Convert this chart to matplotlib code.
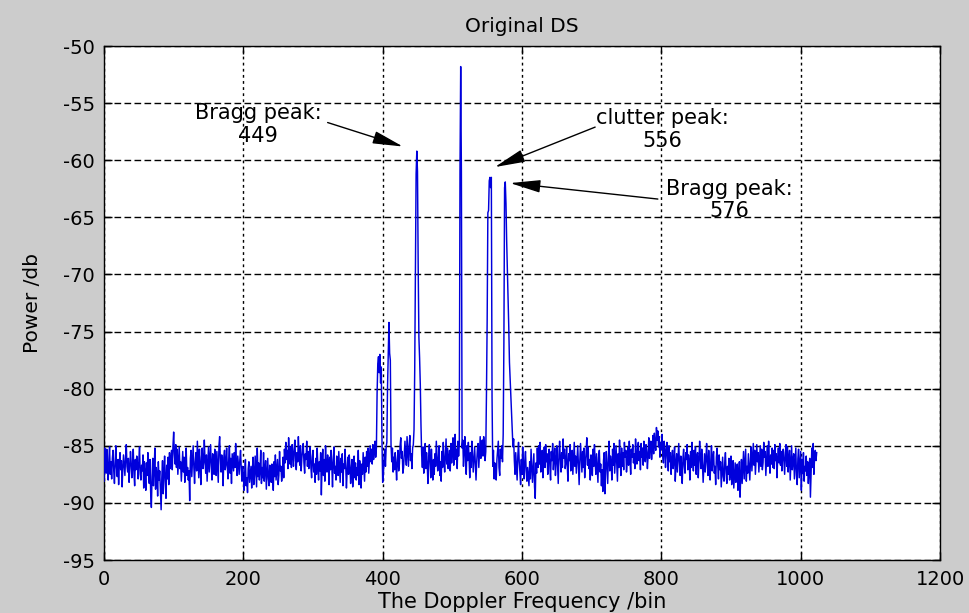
import numpy as np
import matplotlib
matplotlib.use("Agg")
import matplotlib.pyplot as plt

# ---------------- data ----------------
# Power spectrum in dB, bins 0..1023, split into four segments
power_bins_0_255 = [
    -88.1, -85.2, -86.0, -87.4, -85.3, -86.8, -88.0, -86.2, -85.1, -87.5, -86.4, -87.9, -86.1, -85.4, -87.2, -88.3,
    -86.5, -85.0, -86.9, -87.7, -86.2, -88.4, -86.6, -85.6, -87.1, -86.3, -88.6, -87.0, -85.8, -86.7, -87.6, -86.0,
    -84.9, -86.8, -87.3, -86.1, -88.2, -87.0, -85.5, -86.4, -87.8, -86.9, -85.3, -87.4, -88.5, -86.2, -87.1, -85.9,
    -86.6, -87.9, -86.3, -85.1, -87.5, -88.0, -86.7, -87.2, -85.8, -88.7, -86.4, -87.3, -88.9, -86.5, -87.6, -85.6,
    -87.4, -88.3, -86.2, -89.1, -90.4, -87.6, -86.1, -88.5, -87.0, -85.2, -88.8, -86.9, -87.5, -89.4, -86.4, -88.0,
    -87.2, -88.9, -90.6, -87.8, -86.3, -89.2, -87.4, -85.9, -88.1, -89.6, -86.7, -87.9, -86.0, -88.4, -85.6, -87.0,
    -86.3, -85.4, -87.1, -85.0, -83.8, -85.7, -86.6, -84.9, -86.9, -85.3, -87.5, -86.2, -85.1, -87.0, -86.4, -88.1,
    -86.8, -85.5, -87.3, -86.0, -88.2, -86.5, -85.2, -87.6, -86.9, -88.0, -87.2, -89.8, -86.1, -85.4, -87.7, -86.3,
    -85.0, -86.9, -88.3, -86.4, -85.6, -87.2, -84.6, -86.1, -87.8, -85.3, -86.7, -88.4, -86.0, -85.2, -87.0, -86.5,
    -84.5, -86.3, -87.4, -85.8, -88.1, -86.6, -85.1, -87.3, -86.0, -84.9, -86.8, -88.0, -85.7, -86.4, -87.5, -85.3,
    -86.2, -87.6, -85.5, -86.9, -88.2, -85.0, -84.2, -86.1, -87.3, -85.8, -86.7, -88.5, -86.0, -85.4, -87.1, -86.6,
    -85.2, -86.8, -87.9, -86.3, -85.0, -87.4, -86.1, -88.3, -85.7, -86.5, -87.2, -85.6, -86.9, -84.8, -86.4, -87.6,
    -85.9, -86.7, -87.5, -86.2, -85.4, -87.0, -88.1, -86.8, -87.6, -88.9, -87.3, -86.2, -88.5, -87.8, -89.1, -87.0,
    -86.4, -88.2, -87.5, -86.8, -88.7, -87.1, -86.0, -88.4, -87.6, -85.9, -87.3, -88.6, -85.2, -87.7, -86.5, -88.0,
    -87.2, -85.4, -88.3, -86.9, -87.8, -85.6, -88.1, -87.0, -86.3, -88.8, -87.4, -86.1, -87.9, -88.5, -86.7, -87.3,
    -88.2, -86.6, -87.5, -88.9, -86.4, -87.7, -85.8, -88.0, -87.1, -86.2, -88.4, -87.6, -85.5, -87.2, -86.8, -88.1,
]
power_bins_256_511 = [
    -87.4, -86.0, -87.8, -85.3, -86.5, -84.7, -86.2, -85.4, -87.0, -84.3, -85.8, -86.6, -85.1, -86.9, -84.9, -85.7,
    -86.8, -85.2, -84.5, -86.3, -87.1, -85.6, -86.4, -84.2, -85.9, -86.7, -85.0, -87.2, -86.1, -85.3, -84.8, -86.5,
    -87.4, -85.7, -86.2, -84.6, -86.8, -85.5, -87.0, -86.3, -85.1, -86.9, -87.8, -86.0, -85.4, -87.3, -86.6, -88.2,
    -86.1, -87.5, -85.2, -86.8, -88.0, -86.4, -87.2, -85.6, -89.3, -86.7, -85.3, -87.6, -86.2, -88.1, -85.0, -86.9,
    -87.3, -85.8, -86.5, -88.4, -86.0, -87.1, -85.4, -86.7, -88.6, -86.3, -85.1, -87.4, -86.8, -88.0, -85.9, -86.4,
    -87.6, -85.5, -86.9, -88.2, -86.1, -87.3, -85.7, -88.5, -86.6, -87.0, -85.3, -86.8, -88.7, -87.2, -86.0, -87.5,
    -85.8, -86.7, -88.3, -87.1, -86.2, -88.6, -87.4, -85.9, -87.8, -86.5, -88.0, -86.9, -87.6, -85.4, -88.4, -86.3,
    -87.0, -88.7, -86.6, -87.5, -85.6, -86.9, -88.1, -86.0, -87.3, -85.5, -86.8, -85.2, -87.4, -86.1, -85.0, -86.4,
    -85.3, -86.6, -84.9, -86.2, -85.5, -84.6, -86.0, -85.2, -80.4, -77.8, -77.2, -78.6, -77.0, -79.5, -78.1, -84.5,
    -88.2, -87.6, -86.0, -85.3, -86.8, -85.1, -84.7, -79.8, -77.2, -74.2, -76.9, -77.5, -84.9, -86.4, -85.2, -87.3,
    -86.0, -87.1, -85.6, -86.7, -88.0, -86.3, -85.4, -87.2, -86.6, -85.0, -84.3, -86.1, -85.5, -87.4, -86.9, -85.8,
    -84.6, -85.9, -86.7, -84.2, -85.5, -86.8, -85.0, -84.1, -86.3, -85.7, -87.0, -85.2, -84.9, -83.6, -78.4, -69.4,
    -61.2, -59.2, -61.0, -69.4, -75.5, -77.3, -79.6, -83.2, -85.8, -86.9, -85.1, -87.4, -86.2, -84.8, -87.0, -85.6,
    -86.7, -88.3, -86.0, -84.9, -86.5, -87.8, -85.3, -86.9, -88.0, -86.2, -87.5, -85.7, -86.8, -84.6, -85.9, -87.2,
    -86.3, -85.0, -87.6, -86.4, -88.1, -85.5, -86.9, -84.7, -86.2, -87.3, -85.8, -84.4, -86.6, -85.2, -87.0, -86.1,
    -85.4, -87.2, -84.8, -86.5, -85.1, -84.3, -86.7, -85.6, -84.0, -86.2, -85.3, -87.0, -84.6, -85.9, -84.9, -61.0,
]
power_bins_512_767 = [
    -51.8, -61.0, -85.2, -84.5, -86.8, -85.3, -84.2, -86.4, -87.5, -85.0, -86.3, -84.7, -86.0, -87.8, -85.6, -86.9,
    -84.6, -85.8, -87.3, -86.2, -85.1, -86.6, -88.0, -86.4, -85.3, -84.8, -86.9, -85.5, -84.2, -86.1, -85.0, -84.5,
    -85.9, -84.2, -85.0, -86.3, -85.5, -80.4, -74.0, -64.6, -64.4, -61.8, -61.5, -62.4, -61.5, -80.7, -86.8, -85.4,
    -87.9, -86.5, -87.4, -88.0, -86.2, -85.4, -84.6, -86.9, -87.6, -85.3, -86.1, -85.0, -86.4, -84.0, -76.0, -62.4,
    -61.9, -63.8, -67.1, -69.5, -72.2, -74.6, -77.7, -79.2, -80.6, -82.1, -83.5, -85.1, -84.4, -86.3, -87.5, -85.6,
    -86.8, -88.0, -85.9, -84.7, -86.4, -87.3, -88.4, -86.2, -87.5, -85.1, -86.7, -87.9, -86.3, -85.5, -87.2, -88.1,
    -86.9, -87.7, -88.5, -86.4, -87.9, -85.3, -86.8, -88.2, -87.0, -85.7, -88.6, -89.6, -86.5, -87.4, -85.2, -86.9,
    -85.0, -86.6, -84.7, -87.3, -86.0, -85.4, -87.8, -86.2, -85.1, -86.9, -84.9, -86.4, -85.7, -87.5, -86.1, -85.3,
    -86.8, -88.0, -85.5, -86.3, -84.8, -87.1, -86.0, -85.2, -87.6, -86.4, -85.0, -86.7, -88.3, -85.8, -84.6, -86.2,
    -87.3, -85.6, -86.9, -84.4, -86.1, -85.3, -87.0, -86.5, -85.1, -86.8, -88.1, -85.7, -86.3, -84.9, -87.2, -86.0,
    -85.4, -87.5, -86.2, -84.7, -86.8, -85.9, -87.4, -86.1, -85.0, -86.6, -88.4, -86.3, -84.8, -86.0, -87.3, -85.5,
    -86.9, -85.2, -87.8, -86.4, -85.6, -84.3, -86.7, -85.1, -87.0, -86.2, -88.0, -85.8, -86.5, -87.6, -85.3, -86.8,
    -84.9, -86.4, -87.5, -85.7, -86.9, -88.2, -86.0, -85.4, -87.3, -86.6, -88.5, -87.1, -89.0, -86.3, -85.6, -89.2,
    -87.0, -85.5, -86.8, -88.3, -86.1, -84.6, -87.2, -85.9, -86.5, -88.0, -85.3, -86.7, -84.8, -87.4, -86.2, -85.0,
    -86.6, -88.1, -85.7, -86.9, -84.5, -86.3, -87.6, -85.2, -86.8, -85.6, -87.1, -84.7, -86.0, -85.4, -87.3, -86.4,
    -85.1, -86.7, -84.6, -86.2, -87.5, -85.3, -86.0, -84.9, -86.5, -85.7, -87.0, -84.4, -85.9, -86.6, -85.2, -84.7,
]
power_bins_768_1023 = [
    -86.3, -85.5, -87.1, -84.8, -86.0, -85.2, -86.7, -84.6, -85.8, -86.4, -84.9, -85.5, -87.0, -85.9, -84.3, -86.1,
    -85.0, -84.6, -86.2, -85.3, -84.1, -85.7, -83.9, -84.8, -85.4, -83.4, -84.5, -83.7, -85.1, -84.2, -86.0, -84.7,
    -85.3, -84.0, -85.8, -86.5, -84.6, -85.2, -86.9, -85.5, -84.7, -86.1, -87.2, -85.0, -86.4, -85.6, -87.5, -86.2,
    -85.4, -87.0, -86.3, -85.1, -88.1, -86.6, -85.7, -87.3, -86.0, -84.8, -86.5, -87.6, -85.9, -86.7, -88.3, -86.1,
    -85.3, -86.8, -87.4, -85.6, -86.2, -84.9, -87.1, -85.8, -86.4, -88.0, -85.5, -86.9, -84.7, -86.3, -87.2, -85.4,
    -86.7, -85.1, -87.5, -86.0, -85.6, -87.8, -86.4, -84.6, -86.1, -87.0, -85.3, -86.6, -88.2, -86.9, -85.7, -87.3,
    -86.2, -84.8, -86.5, -87.6, -85.4, -86.9, -88.0, -86.3, -85.0, -87.2, -86.1, -85.5, -87.4, -86.8, -88.4, -86.0,
    -85.2, -86.7, -87.9, -85.8, -87.1, -86.4, -88.6, -87.3, -86.0, -87.7, -88.1, -86.5, -85.6, -87.4, -88.3, -86.8,
    -87.5, -86.1, -88.0, -87.2, -85.9, -88.4, -87.0, -86.3, -88.7, -87.6, -86.5, -88.2, -87.3, -86.6, -88.9, -87.8,
    -86.4, -89.5, -87.7, -86.2, -88.3, -87.0, -85.5, -87.9, -86.6, -85.3, -88.1, -86.8, -87.4, -85.7, -86.9, -88.0,
    -86.3, -85.1, -87.2, -86.0, -84.8, -86.7, -85.4, -87.5, -86.1, -84.9, -86.4, -85.6, -87.3, -86.2, -85.0, -86.8,
    -85.3, -87.1, -86.5, -84.7, -86.0, -85.5, -87.6, -86.3, -85.0, -86.8, -84.6, -86.2, -87.4, -85.8, -86.6, -85.2,
    -86.9, -85.4, -87.0, -84.9, -86.3, -85.7, -87.8, -86.1, -85.2, -86.5, -84.8, -86.7, -85.5, -87.2, -86.0, -85.3,
    -86.4, -87.5, -85.6, -84.9, -86.8, -85.1, -87.3, -86.2, -85.4, -88.0, -86.6, -85.0, -87.1, -86.3, -85.7, -87.9,
    -86.5, -85.2, -87.6, -88.4, -86.1, -85.3, -87.8, -86.7, -85.5, -88.9, -86.2, -87.4, -85.6, -88.1, -86.8, -87.2,
    -85.9, -87.6, -86.4, -88.3, -87.0, -86.1, -89.5, -87.3, -85.2, -86.9, -84.8, -87.5, -86.0, -85.4, -86.3, -85.6,
]

title_text = "Original DS"
x_label = "The Doppler Frequency /bin"
y_label = "Power /db"
x_ticks = [0, 200, 400, 600, 800, 1000, 1200]
y_ticks = [-95, -90, -85, -80, -75, -70, -65, -60, -55, -50]

annot_texts = ["Bragg peak:\n449", "clutter peak:\n556", "Bragg peak:\n576"]

# ---------------- figure ----------------
power = np.array(power_bins_0_255 + power_bins_256_511 + power_bins_512_767 + power_bins_768_1023)
bins = np.arange(len(power))

fig = plt.figure(figsize=(9.70, 6.13), dpi=100, facecolor="#cccccc")
ax = fig.add_axes([104 / 970, 1 - 560 / 613, 836 / 970, (560 - 46) / 613])
ax.set_facecolor("white")

ax.plot(bins, power, color="#0000dc", lw=1.05, zorder=3)

ax.set_xlim(0, 1200)
ax.set_ylim(-95, -50)
ax.set_xticks(x_ticks)
ax.set_yticks(y_ticks)
ax.set_xticklabels([str(v) for v in x_ticks])
ax.set_yticklabels([str(v) for v in y_ticks])

ax.xaxis.grid(True, linestyle=(0, (2.0, 2.4)), color="black", lw=1.0)
ax.yaxis.grid(True, linestyle=(0, (4.8, 2.4)), color="black", lw=1.0)
ax.set_axisbelow(True)

for s in ax.spines.values():
    s.set_linewidth(1.0)
    s.set_color("black")

ax.tick_params(direction="in", top=True, right=True, length=6, width=1.0,
               labelsize=14, colors="black")
ax.tick_params(axis="x", pad=7.5)
ax.tick_params(axis="y", pad=6.5)

ax.set_title(title_text, fontsize=14.5, pad=10)
ax.set_xlabel(x_label, fontsize=15, labelpad=2)
ax.set_ylabel(y_label, fontsize=14.5, labelpad=15)

# annotations: text block (center x, top y) and arrow tail -> tip, in data coords
text_pos = [(221, -55.0), (802, -55.45), (897, -61.65)]
arrow_tail = [(321, -56.7), (705, -57.1), (795, -63.4)]
arrow_tip = [(429, -58.8), (561, -60.6), (583, -62.0)]

for txt, (tx, ty), tail, tip in zip(annot_texts, text_pos, arrow_tail, arrow_tip):
    ax.text(tx, ty, txt, ha="center", va="top", multialignment="center",
            fontsize=15, color="black", zorder=5, linespacing=1.15)
    ax.annotate("", xy=tip, xytext=tail,
                arrowprops=dict(arrowstyle="-|>,head_length=1.25,head_width=0.26",
                                color="black", lw=1.0, shrinkA=0, shrinkB=0,
                                mutation_scale=15),
                zorder=5)

fig.savefig("out.png", dpi=100, facecolor=fig.get_facecolor())
